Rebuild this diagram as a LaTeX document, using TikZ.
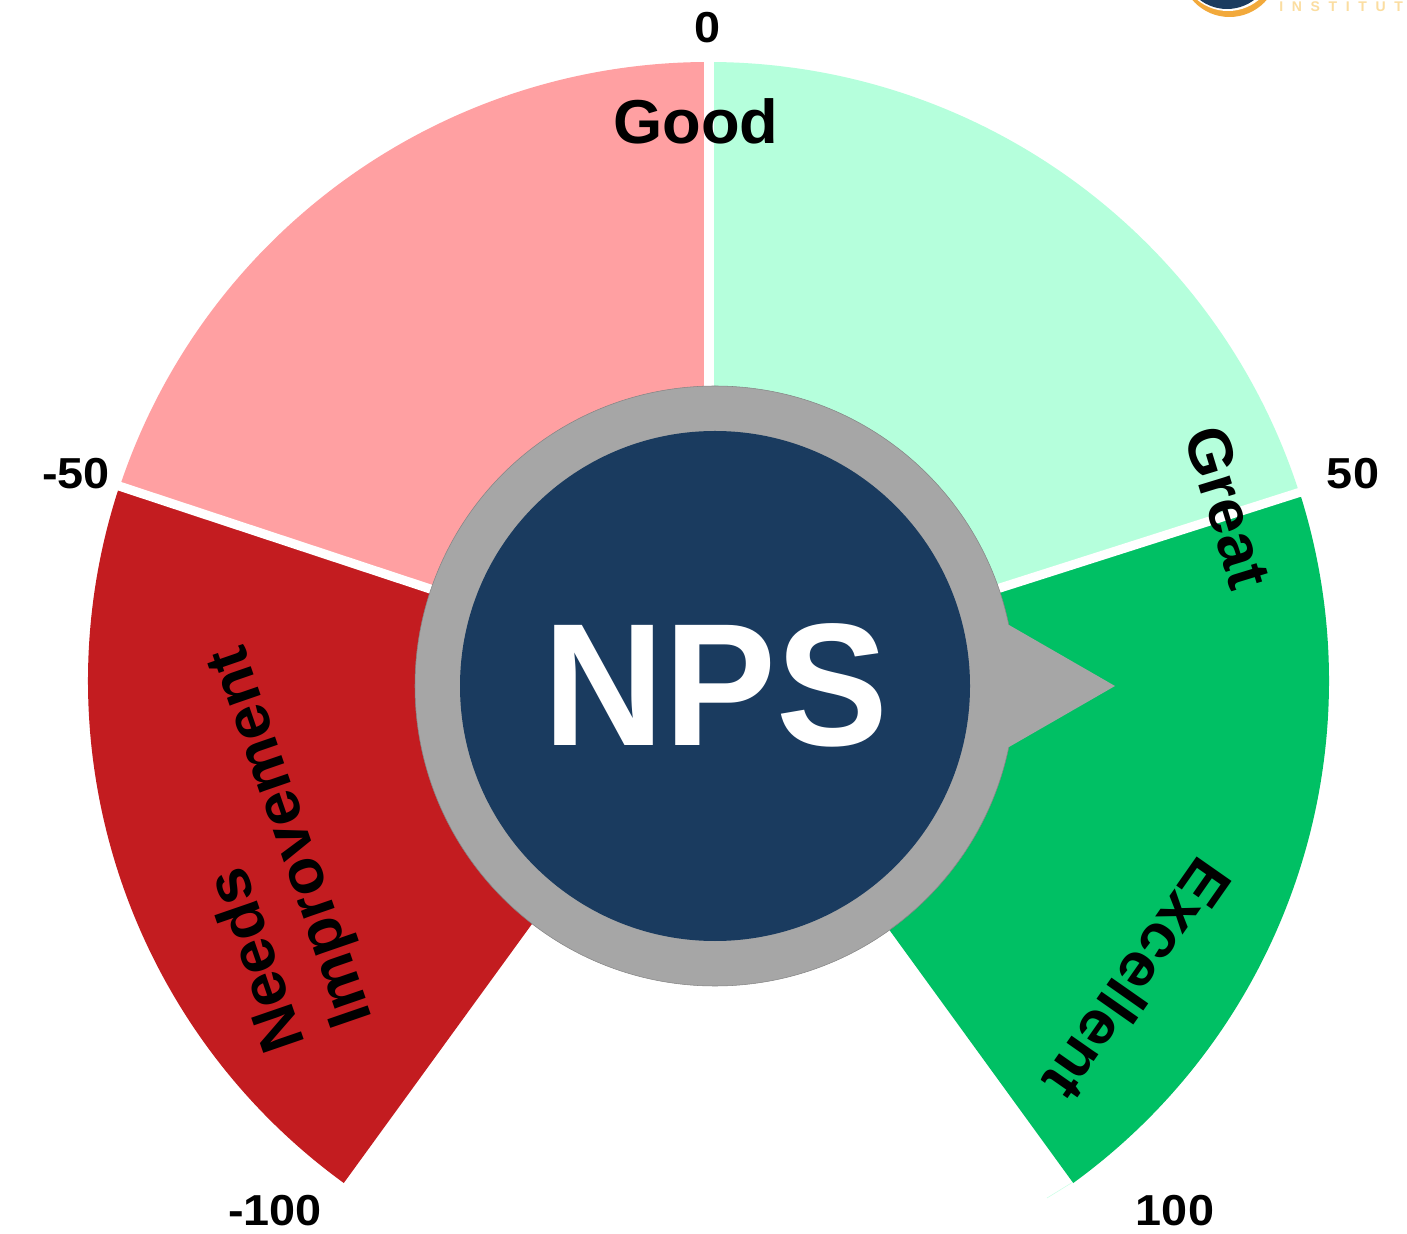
\documentclass[tikz,border=0pt]{standalone}
\usepackage{fontspec}
\setmainfont{Liberation Sans}
\definecolor{softred}{HTML}{FFA0A2}
\definecolor{mint}{HTML}{B5FFDC}
\definecolor{deepred}{HTML}{C31C20}
\definecolor{deepgreen}{HTML}{00C064}
\definecolor{dial}{HTML}{A6A6A6}
\definecolor{navy}{HTML}{1A3B5F}
\definecolor{logoorange}{HTML}{F2A93B}
\definecolor{logotext}{HTML}{FBDDA0}
\tikzset{
  sector/.style={draw=none},
  gap/.style={draw=white,line width=6.8pt},
  tick/.style={font=\bfseries\fontsize{32.5}{34}\selectfont\addfontfeature{FakeStretch=1.08},text=black,inner sep=0pt},
  band/.style={font=\bfseries\fontsize{46.5}{50}\selectfont\addfontfeature{FakeStretch=1.02},text=black,inner sep=0pt},
}
\begin{document}
\begin{tikzpicture}[x=.75pt,y=.75pt]
\useasboundingbox (0,0) rectangle (1407,1233);
\clip (0,0) rectangle (1407,1233);
\fill[white] (0,0) rectangle (1407,1233);
\coordinate (o) at (708.5,552);
\coordinate (u) at (708.5,550.5);
\coordinate (c) at (715,547);
% logo fragment
\fill[logoorange] (1229.5,1265) circle (49);
\fill[white] (1228,1270) circle (48);
\fill[navy] (1227,1269) circle (45);
\node[anchor=west,inner sep=0pt,text=logotext,font=\bfseries\fontsize{10.5}{11}\selectfont\addfontfeature{LetterSpace=62}] (logo) at (1279,1226) {INSTITUTE};
% sectors
\fill[sector,fill=softred] (u) -- +(90:620.5) arc[start angle=90,end angle=161.7,radius=620.5] -- cycle;
\fill[sector,fill=mint] (u) -- +(90:620.5) arc[start angle=90,end angle=17.7,radius=620.5] -- cycle;
\fill[sector,fill=deepred] (o) -- +(161.7:620.5) arc[start angle=161.7,end angle=234,radius=620.5] -- cycle;
\fill[sector,fill=deepgreen] (o) -- +(17.7:620.5) arc[start angle=17.7,end angle=-54,radius=620.5] -- cycle;
\draw[mint,line width=.4pt,opacity=.7] (1073,51) -- (1047,35);
% gaps
\draw[gap,line width=7.5pt] (o) -- +(90:640);
\draw[gap] (o) -- +(17.7:640);
\draw[gap] (o) -- +(161.7:640);
% dial
\draw[fill=dial,draw=dial!80!black,line width=.4pt] (c) circle (300);
\fill[dial] (1000,612) -- (1009,608) -- (1115,547) -- (1009,486) -- (1000,482) -- cycle;
\node[circle,fill=navy,minimum size=382.5pt,inner sep=0pt] (hub) at (c) {};
\node[text=white,inner sep=0pt,font=\bfseries\fontsize{131}{133}\selectfont\addfontfeature{FakeStretch=.96}] (nps) at (716,548) {NPS};
% tick labels
\node[tick] (t0) at (708,1205) {0};
\node[tick] (tm50) at (76,759) {-50};
\node[tick] (t50) at (1353,759) {50};
\node[tick] (tm100) at (275,22) {-100};
\node[tick] (t100) at (1175,22) {100};
% band labels
\node[band] (good) at (696,1112) {Good};
\node[band,rotate=-73] (great) at (1228,726) {Great};
\node[band,rotate=-125] (excellent) at (1138,253) {Excellent};
\node[band,rotate=109] (needs) at (254,272) {Needs};
\node[band,rotate=109] (improvement) at (294,397) {Improvement};
\end{tikzpicture}
\end{document}
